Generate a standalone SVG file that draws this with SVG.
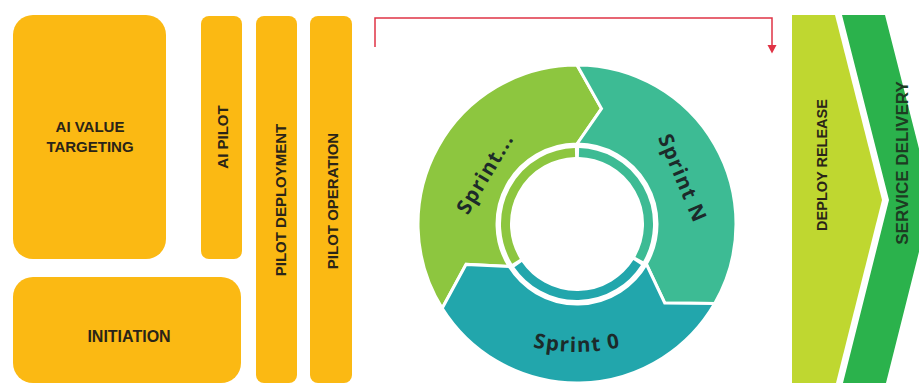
<svg xmlns="http://www.w3.org/2000/svg" width="919" height="383" viewBox="0 0 919 383">
<style>
.y{fill:#FBB913}
.lbl{font-family:"Liberation Sans",Arial,sans-serif;font-weight:bold;fill:#2a2418;text-anchor:middle}
.sp{font-family:"Open Sans","Liberation Sans",sans-serif;font-weight:700;font-size:20.5px;fill:#1c2a2a;text-anchor:middle;letter-spacing:1.2px}
.seg{stroke:#fff;stroke-width:3;stroke-linejoin:miter}
.ring{fill:none;stroke-width:9}
.red{stroke:#E03345;stroke-width:1.5;fill:none}
</style>
<defs>
<path id="arc0" d="M477,325.2 A200 200 0 0 0 677,325.2"/>
</defs>
<rect width="919" height="383" fill="#fff"/>

<g id="ai-value-targeting">
<rect class="y" x="13" y="15" width="153" height="244" rx="20"/>
<text class="lbl" font-size="15" x="90" y="131.5">AI VALUE</text>
<text class="lbl" font-size="15" x="90" y="151.5">TARGETING</text>
</g>
<g id="ai-pilot">
<rect class="y" x="201" y="16" width="41" height="243" rx="8"/>
<text class="lbl" font-size="15" x="227.5" y="137" transform="rotate(-90 227.5 137)">AI PILOT</text>
</g>
<g id="pilot-deployment">
<rect class="y" x="256" y="16" width="41" height="367" rx="8"/>
<text class="lbl" font-size="15" x="285.5" y="200" transform="rotate(-90 285.5 200)">PILOT DEPLOYMENT</text>
</g>
<g id="pilot-operation">
<rect class="y" x="310" y="16" width="42" height="367" rx="8"/>
<text class="lbl" font-size="15" x="338" y="201" transform="rotate(-90 338 201)">PILOT OPERATION</text>
</g>
<g id="initiation">
<rect class="y" x="13" y="277" width="228" height="106" rx="20"/>
<text class="lbl" font-size="16" x="129" y="342">INITIATION</text>
</g>

<g id="sprint-ellipsis">
<path class="seg" fill="#8DC63F" d="M442.2,308.3 A159 159 0 0 1 577,65 L601.5,108.6 L577,144 A80 80 0 0 0 509.2,266.4 L466.1,264.4 Z"/>
<path class="ring" stroke="#8DC63F" d="M516,261.3 A71.5 71.5 0 0 1 575,152.5"/>
<text class="sp" x="491" y="177" transform="rotate(-59 491 177)">Sprint...</text>
</g>
<g id="sprint-n">
<path class="seg" fill="#3DBB94" d="M577,65 A159 159 0 0 1 714.7,303.5 L664.7,303 L646.3,264 A80 80 0 0 0 577,144 L601.5,108.6 Z"/>
<path class="ring" stroke="#3DBB94" d="M579,152.5 A71.5 71.5 0 0 1 639.3,259.1"/>
<text class="sp" x="676" y="181" transform="rotate(67 676 181)">Sprint N</text>
</g>
<g id="sprint-0">
<path class="seg" fill="#22A6AC" d="M714.7,303.5 A159 159 0 0 1 442.2,308.3 L466.1,264.4 L509.2,266.4 A80 80 0 0 0 646.3,264 L664.7,303 Z"/>
<path class="ring" stroke="#22A6AC" d="M637.2,262.5 A71.5 71.5 0 0 1 518.1,264.6"/>
<text class="sp"><textPath href="#arc0" startOffset="50%">Sprint 0</textPath></text>
</g>

<g id="deploy-release">
<polygon fill="#BFD730" points="792,15 835,15 882,200 836,383 792,383"/>
<text class="lbl" font-size="14.5" x="827" y="165" transform="rotate(-90 827 165)">DEPLOY RELEASE</text>
</g>
<g id="service-delivery">
<polygon fill="#2BB24C" points="842,15 885,15 932,200 886,383 843,383 889,200"/>
<text class="lbl" font-size="17" style="fill:#1d3b22" x="908" y="163" transform="rotate(-90 908 163)">SERVICE DELIVERY</text>
</g>

<g id="connectors">
<polyline class="red" points="375,47 375,18 772,18 772,46"/>
<polygon points="767.5,45 776.5,45 772,53.5" fill="#E03345"/>
</g>
</svg>
